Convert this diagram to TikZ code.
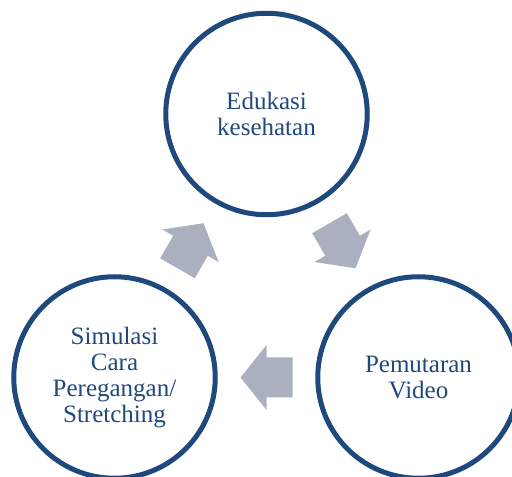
\documentclass[tikz,border=0pt]{standalone}
\usepackage{fontspec}
\setmainfont{Liberation Serif}
\usetikzlibrary{calc}

\definecolor{ringblue}{RGB}{31,73,125}
\definecolor{arrowgrey}{RGB}{170,176,192}

\tikzset{
  stage/.style={circle, draw=ringblue, line width=5pt, minimum size=201.5pt,
    inner sep=0pt, align=center, text=ringblue,
    font=\fontsize{25}{26}\selectfont},
  cyclearrow/.style={fill=arrowgrey}
}

\begin{document}
\begin{tikzpicture}[x=1pt, y=1pt]
  \useasboundingbox (0,0) rectangle (512,477);
  \clip (0,0) rectangle (512,477);

  % the three stages
  \node[stage] (edu) at (266.5, 363) {Edukasi\\kesehatan};
  \node[stage] (video) at (418.5, 99.5) {Pemutaran\\Video};
  \node[stage] (sim) at (114.5, 99.5) {Simulasi\\Cara\\Peregangan/\\Stretching};

  % block arrows between them
  \fill[cyclearrow, shift={($(edu)!0.5!(video)$)}, rotate=-60]
    (-26,-20) -- (0,-20) -- (0,-32.5) -- (26,0) -- (0,32.5) -- (0,20) -- (-26,20) -- cycle;
  \fill[cyclearrow, shift={($(video)!0.5!(sim)$)}, rotate=180]
    (-26,-20) -- (0,-20) -- (0,-32.5) -- (26,0) -- (0,32.5) -- (0,20) -- (-26,20) -- cycle;
  \fill[cyclearrow, shift={($(sim)!0.5!(edu)$)}, rotate=60]
    (-26,-20) -- (0,-20) -- (0,-32.5) -- (26,0) -- (0,32.5) -- (0,20) -- (-26,20) -- cycle;

\end{tikzpicture}
\end{document}
